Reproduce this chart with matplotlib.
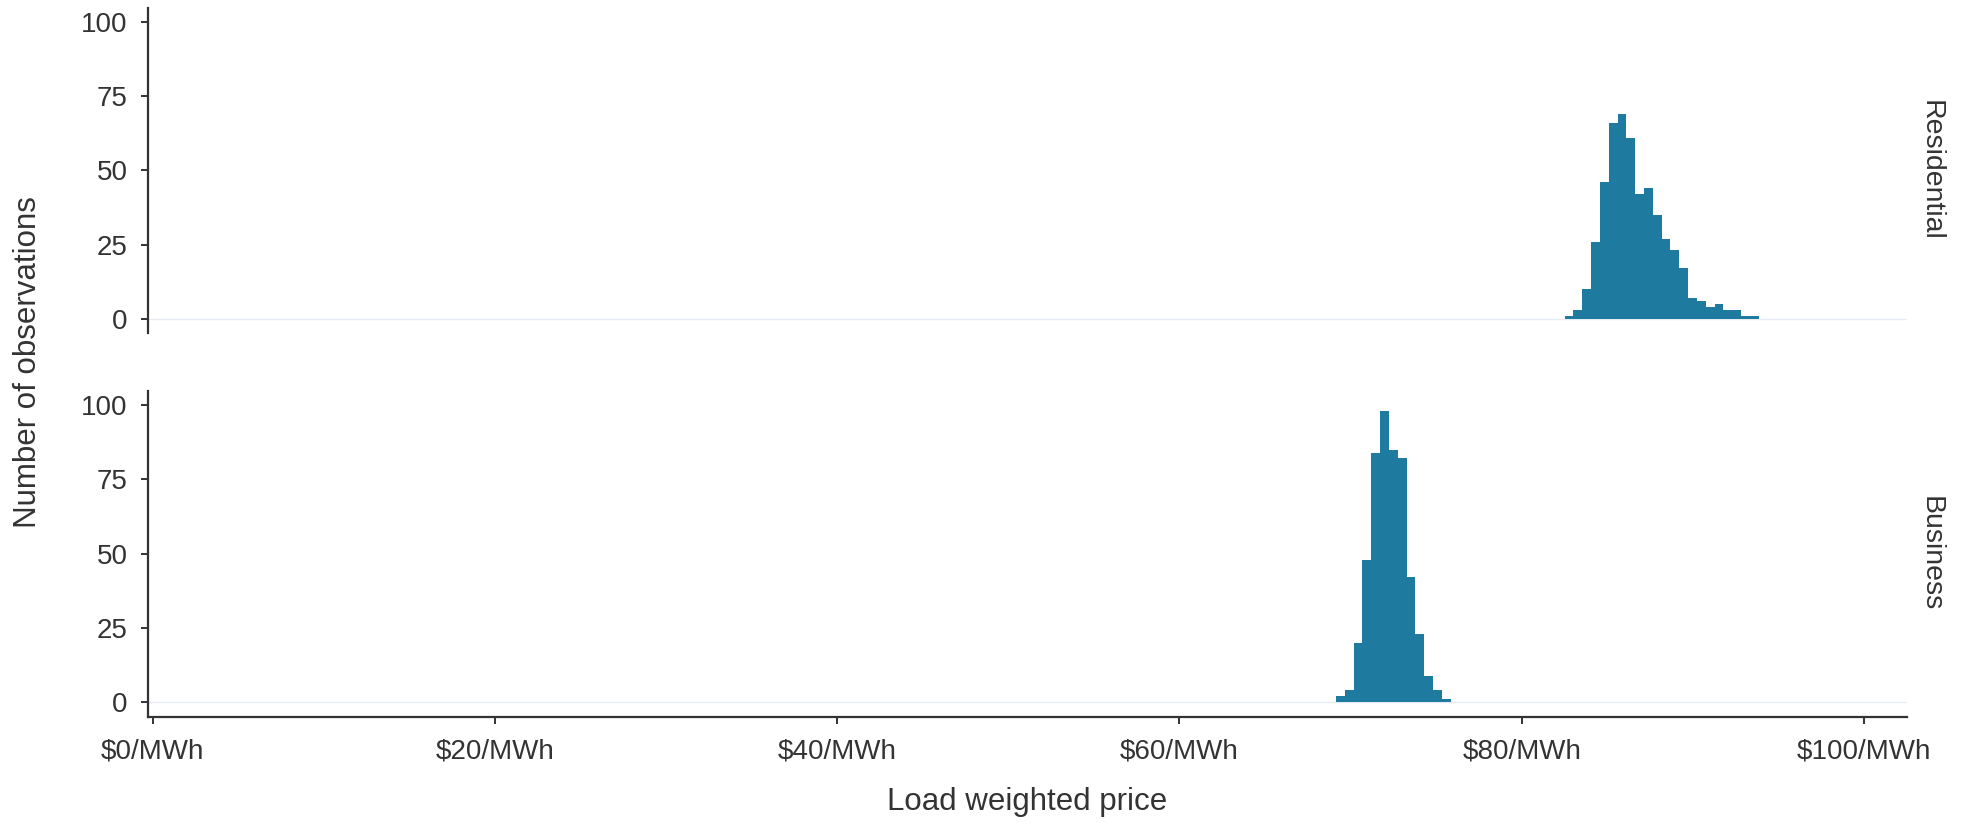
import matplotlib
matplotlib.use("Agg")
import matplotlib.pyplot as plt
import numpy as np

plt.rcParams['font.family'] = ['Liberation Sans', 'DejaVu Sans']

# histogram counts
bin_width = 0.516
residential_start = 82.5
residential_counts = [1, 3, 10, 26, 46, 66, 69, 61, 42, 44, 35, 27, 23, 17, 7, 6, 4, 5, 3, 3, 1, 1]
business_start = 69.14
business_counts = [2, 4, 20, 48, 84, 98, 85, 82, 42, 23, 9, 4, 1]

panels = ['Residential', 'Business']
starts = [residential_start, business_start]
counts = [residential_counts, business_counts]

xticks = [0, 20, 40, 60, 80, 100]
xticklabels = ['$%d/MWh' % v for v in xticks]
yticks = [0, 25, 50, 75, 100]

bar_col = '#1f7a9f'
txt_col = '#333333'

fig = plt.figure(figsize=(19.68, 8.3), dpi=100)
ax_top = fig.add_axes([0.0754, 0.5988, 0.8935, 0.3916])
ax_bot = fig.add_axes([0.0754, 0.1365, 0.8935, 0.3928])

for ax, name, s, c in zip([ax_top, ax_bot], panels, starts, counts):
    edges = s + bin_width * np.arange(len(c) + 1)
    ax.axhline(0, color='#e6ecf2', lw=1, zorder=0)
    ax.stairs(c, edges, fill=True, color=bar_col, zorder=2)
    ax.set_xlim(-0.25, 102.5)
    ax.set_ylim(-4.85, 104.8)
    ax.set_yticks(yticks)
    for sp in ['top', 'right']:
        ax.spines[sp].set_visible(False)
    ax.spines['left'].set_color(txt_col)
    ax.spines['left'].set_linewidth(1.6)
    ax.spines['bottom'].set_color(txt_col)
    ax.spines['bottom'].set_linewidth(1.6)
    ax.tick_params(colors=txt_col, labelsize=20, length=5, width=1.4, pad=10)
    ax.text(1.0138, 0.5, name, transform=ax.transAxes, rotation=-90,
            ha='center', va='center', fontsize=20.5, color=txt_col)

ax_top.spines['bottom'].set_visible(False)
ax_top.set_xticks([])

ax_bot.set_xticks(xticks)
ax_bot.set_xticklabels(xticklabels)
ax_bot.tick_params(axis='x', pad=11)
ax_bot.set_xlabel('Load weighted price', fontsize=22.5, color=txt_col, labelpad=16)

fig.text(0.014, 0.564, 'Number of observations', rotation=90, ha='center', va='center',
         fontsize=22.5, color=txt_col)

fig.savefig('out.png', dpi=100)
